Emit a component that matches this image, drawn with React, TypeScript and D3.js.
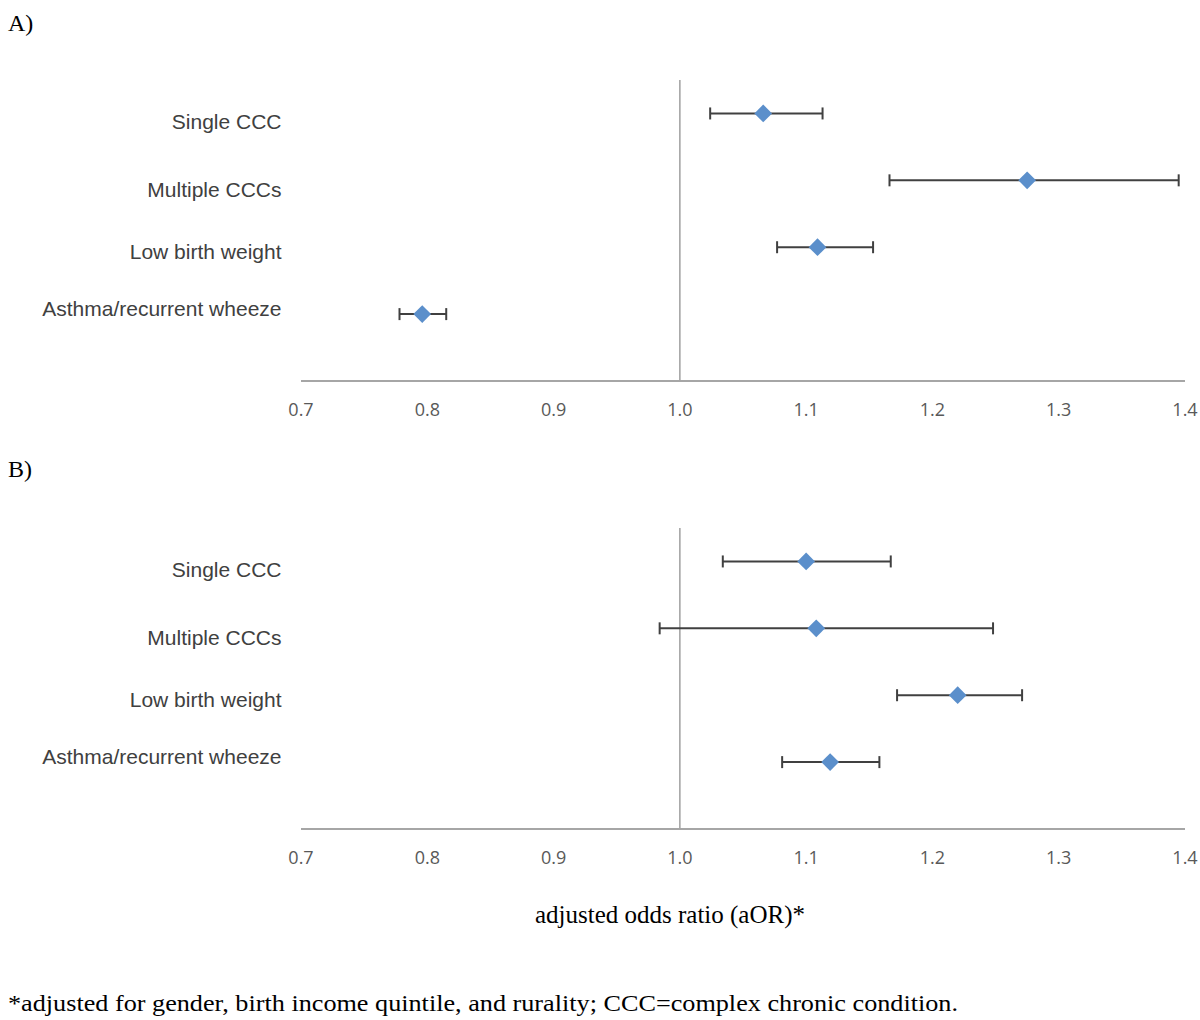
import React from "react";
import * as d3 from "d3";

// ---- data ----
const categories = ["Single CCC", "Multiple CCCs", "Low birth weight", "Asthma/recurrent wheeze"];
const rowIndex = [4, 3, 2, 1];

const panelAEstimate = [1.066, 1.275, 1.109, 0.796];
const panelALower = [1.024, 1.166, 1.077, 0.778];
const panelAUpper = [1.113, 1.395, 1.153, 0.815];

const panelBEstimate = [1.100, 1.108, 1.220, 1.119];
const panelBLower = [1.034, 0.984, 1.172, 1.081];
const panelBUpper = [1.167, 1.248, 1.271, 1.158];

const xTicks = [0.7, 0.8, 0.9, 1.0, 1.1, 1.2, 1.3, 1.4];
const xDomain = [0.7, 1.4];
const yDomain = [0, 4.5];
const referenceValue = 1.0;

const panelTitles = ["A)", "B)"];
const axisTitle = "adjusted odds ratio (aOR)*";
const footnote = "*adjusted for gender, birth income quintile, and rurality; CCC=complex chronic condition.";

// ---- layout ----
const W = 1200;
const H = 1020;
const plotLeft = 301;
const plotRight = 1185;
const panelTops = [80, 528];
const panelBottoms = [381, 829];
const labelRight = 281.5;
const labelNudge = [15.5, 16.5, 12, 1.5];

const diamondColor = "#5B8FCB";
const barColor = "#404040";
const axisColor = "#A6A6A6";

function Panel({ top, bottom, est, lo, hi }: { top: number; bottom: number; est: number[]; lo: number[]; hi: number[] }) {
  const x = d3.scaleLinear().domain(xDomain).range([plotLeft, plotRight]);
  const y = d3.scaleLinear().domain(yDomain).range([bottom, top]);
  const fmt = d3.format(".1f");
  const diamond = d3.symbol().type(d3.symbolDiamond2).size(200)();
  const cap = 6;
  return (
    <g>
      <line x1={x(xDomain[0])} x2={x(xDomain[1])} y1={y(0)} y2={y(0)} stroke={axisColor} strokeWidth={2} />
      <line x1={x(referenceValue)} x2={x(referenceValue)} y1={y(yDomain[1])} y2={y(0)} stroke={axisColor} strokeWidth={1.6} />
      {xTicks.map((t) => (
        <text key={t} x={x(t)} y={y(0) + 35} textAnchor="middle" fontFamily="'Open Sans', sans-serif" fontSize={18} fill="#595959">
          {fmt(t)}
        </text>
      ))}
      {categories.map((c, i) => (
        <text key={c} x={labelRight} y={y(rowIndex[i]) + labelNudge[i]} textAnchor="end" fontFamily="'Liberation Sans', Arial, sans-serif" fontSize={21} fill="#404040">
          {c}
        </text>
      ))}
      {categories.map((c, i) => {
        const yy = y(rowIndex[i]);
        return (
          <g key={"e" + c}>
            <line x1={x(lo[i])} x2={x(hi[i])} y1={yy} y2={yy} stroke={barColor} strokeWidth={2} />
            <line x1={x(lo[i])} x2={x(lo[i])} y1={yy - cap} y2={yy + cap} stroke={barColor} strokeWidth={2} />
            <line x1={x(hi[i])} x2={x(hi[i])} y1={yy - cap} y2={yy + cap} stroke={barColor} strokeWidth={2} />
            <path d={diamond || ""} transform={`translate(${x(est[i])},${yy})`} fill={diamondColor} />
          </g>
        );
      })}
    </g>
  );
}

export default function App() {
  return (
    <svg width={W} height={H} style={{ position: "absolute", left: 0, top: 0, background: "#fff" }}>
      <rect width={W} height={H} fill="#fff" />
      <text x={8} y={31} fontFamily="'Liberation Serif', serif" fontSize={24} fill="#000">{panelTitles[0]}</text>
      <text x={8} y={477} fontFamily="'Liberation Serif', serif" fontSize={24} fill="#000">{panelTitles[1]}</text>
      <Panel top={panelTops[0]} bottom={panelBottoms[0]} est={panelAEstimate} lo={panelALower} hi={panelAUpper} />
      <Panel top={panelTops[1]} bottom={panelBottoms[1]} est={panelBEstimate} lo={panelBLower} hi={panelBUpper} />
      <text x={670} y={923} textAnchor="middle" fontFamily="'Liberation Serif', serif" fontSize={25} fill="#000" textLength={270} lengthAdjust="spacingAndGlyphs">
        {axisTitle}
      </text>
      <text x={8} y={1011} fontFamily="'Liberation Serif', serif" fontSize={23} fill="#000" textLength={950} lengthAdjust="spacingAndGlyphs">
        {footnote}
      </text>
    </svg>
  );
}
